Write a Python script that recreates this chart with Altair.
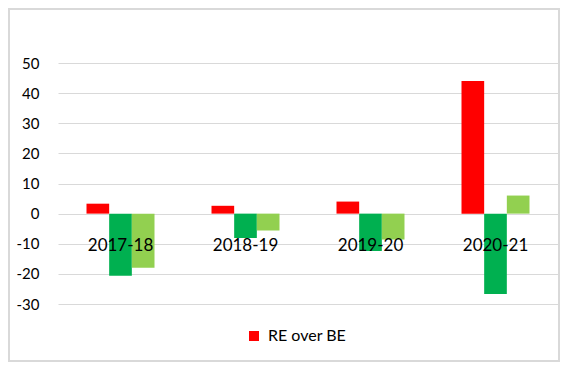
import altair as alt
import pandas as pd

years = ["2017-18", "2018-19", "2019-20", "2020-21"]
series = ["RE over BE", "AE over BE", "AE over RE"]
re_over_be = [3.3, 2.6, 4.0, 44.0]
ae_over_be = [-20.6, -8.1, -12.4, -26.7]
ae_over_re = [-18.0, -5.6, -8.6, 6.0]
colors = ["#FF0000", "#00B050", "#92D050"]
y_ticks = [-30, -20, -10, 0, 10, 20, 30, 40, 50]

rows = []
for i, y in enumerate(years):
    for s, vals in zip(series, [re_over_be, ae_over_be, ae_over_re]):
        rows.append({"year": y, "series": s, "value": vals[i]})
df = pd.DataFrame(rows)
labels_df = pd.DataFrame({"year": years, "value": [0] * len(years)})

FONT = "Lato"

x_enc = alt.X("year:N", sort=years, axis=None,
              scale=alt.Scale(paddingInner=0.456, paddingOuter=0.228))
y_scale = alt.Scale(domain=[-30, 50], nice=False, zero=False)
y_axis = alt.Axis(values=y_ticks, grid=True, gridColor="#d9d9d9",
                  gridWidth=1, domain=False, ticks=False,
                  domainColor="transparent", tickColor="transparent",
                  labelOverlap=False, labelExpr="'' + datum.value",
                  labelPadding=19, labelFont=FONT, labelFontSize=15,
                  labelColor="#000000", title=None)

bars = alt.Chart(df).mark_bar().encode(
    x=x_enc,
    xOffset=alt.XOffset("series:N", sort=series),
    y=alt.Y("value:Q", scale=y_scale, axis=y_axis),
    color=alt.Color("series:N", sort=series,
                    scale=alt.Scale(domain=series, range=colors),
                    legend=alt.Legend(values=["RE over BE"], orient="none",
                                      legendX=188, legendY=265, title=None,
                                      symbolType="square", symbolSize=100,
                                      symbolStrokeWidth=0, labelOffset=6,
                                      labelFont=FONT, labelFontSize=16,
                                      labelColor="#000000")),
)

texts = alt.Chart(labels_df).mark_text(
    dy=32, font=FONT, fontSize=17, color="#000000"
).encode(
    x=x_enc,
    y=alt.Y("value:Q", scale=y_scale, axis=y_axis),
    text="year:N",
)

border = alt.Chart(pd.DataFrame({"a": [0]})).mark_rect(
    filled=False, stroke="#d9d9d9", strokeWidth=2
).encode(
    x=alt.value(-49), x2=alt.value(501), y=alt.value(-54), y2=alt.value(298)
)

chart = alt.layer(bars, texts, border).properties(
    width=500, height=241,
    background="white",
    autosize=alt.AutoSizeParams(type="none"),
    padding={"left": 50, "top": 55, "right": 2, "bottom": 58},
).configure_view(strokeWidth=0, stroke="transparent").configure_axis(
    domain=False, ticks=False
)

chart.save("out.html", embed_options={"renderer": "svg", "actions": False})
